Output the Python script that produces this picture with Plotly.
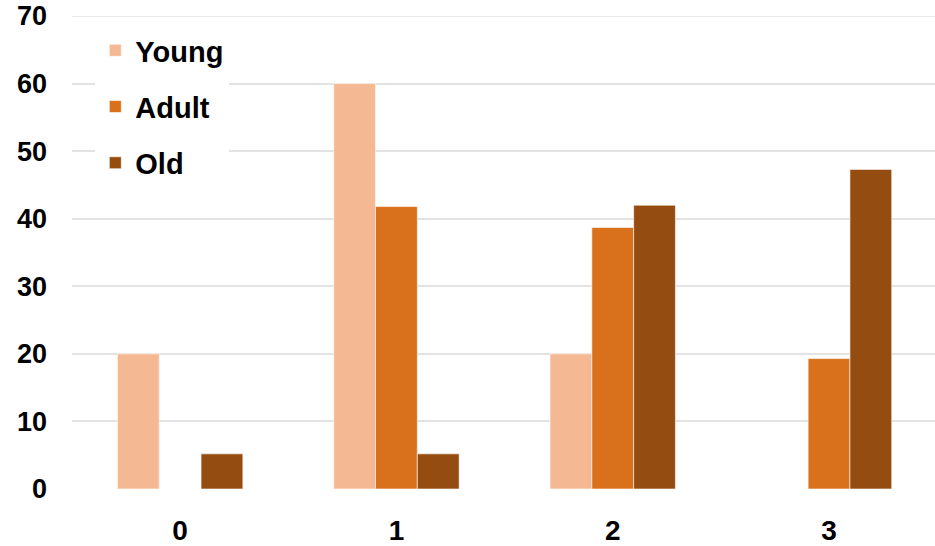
import plotly.graph_objects as go

categories = ["0", "1", "2", "3"]
young = [20, 60, 20, 0]
adult = [0, 41.8, 38.7, 19.3]
old = [5.2, 5.2, 42.0, 47.3]
y_ticks = [0, 10, 20, 30, 40, 50, 60, 70]

colors = {"Young": "#F4B992", "Adult": "#D9711C", "Old": "#954C10"}
series = [("Young", young), ("Adult", adult), ("Old", old)]
grid_color = "#E3E3E3"

fig = go.Figure()
for name, vals in series:
    fig.add_trace(go.Bar(
        x=categories, y=vals, name=name, legendgroup=name,
        marker=dict(color=colors[name], line=dict(color="rgba(255,255,255,0.6)", width=1)),
    ))

# top gridline (plotly hides gridlines lying on the range edge)
fig.add_shape(type="line", xref="paper", yref="y", x0=0, x1=1,
              y0=y_ticks[-1], y1=y_ticks[-1],
              line=dict(color=grid_color, width=1.5), layer="below")

font_family = "Liberation Sans, Arial, sans-serif"
fig.update_layout(
    width=935, height=546,
    margin=dict(l=72, r=0, t=16, b=57, autoexpand=False),
    paper_bgcolor="white", plot_bgcolor="white",
    barmode="group", bargap=0.42, bargroupgap=0,
    font=dict(family=font_family, color="black"),
    showlegend=True,
    legend=dict(
        x=0.027, y=0.981, xanchor="left", yanchor="top",
        bgcolor="white", traceorder="grouped", tracegroupgap=15.5,
        font=dict(size=29, family=font_family, weight="bold", color="black"),
        itemclick=False,
    ),
    xaxis=dict(
        type="category", range=[-0.5, 3.49], automargin=False,
        showgrid=False, showline=False, zeroline=False,
        tickfont=dict(size=28, family=font_family, weight="bold", color="black"),
        ticks="", ticklabelstandoff=22,
    ),
    yaxis=dict(
        range=[0, 70], tickvals=y_ticks, automargin=False,
        showgrid=True, gridcolor=grid_color, gridwidth=1.5,
        zeroline=False, showline=False, ticklabeloverflow="allow",
        tickfont=dict(size=27, family=font_family, weight="bold", color="black"),
        ticks="", ticklabelstandoff=24,
    ),
)

fig.write_html("out.html", config={"displayModeBar": False},
               post_script="document.body.style.margin='0';")
